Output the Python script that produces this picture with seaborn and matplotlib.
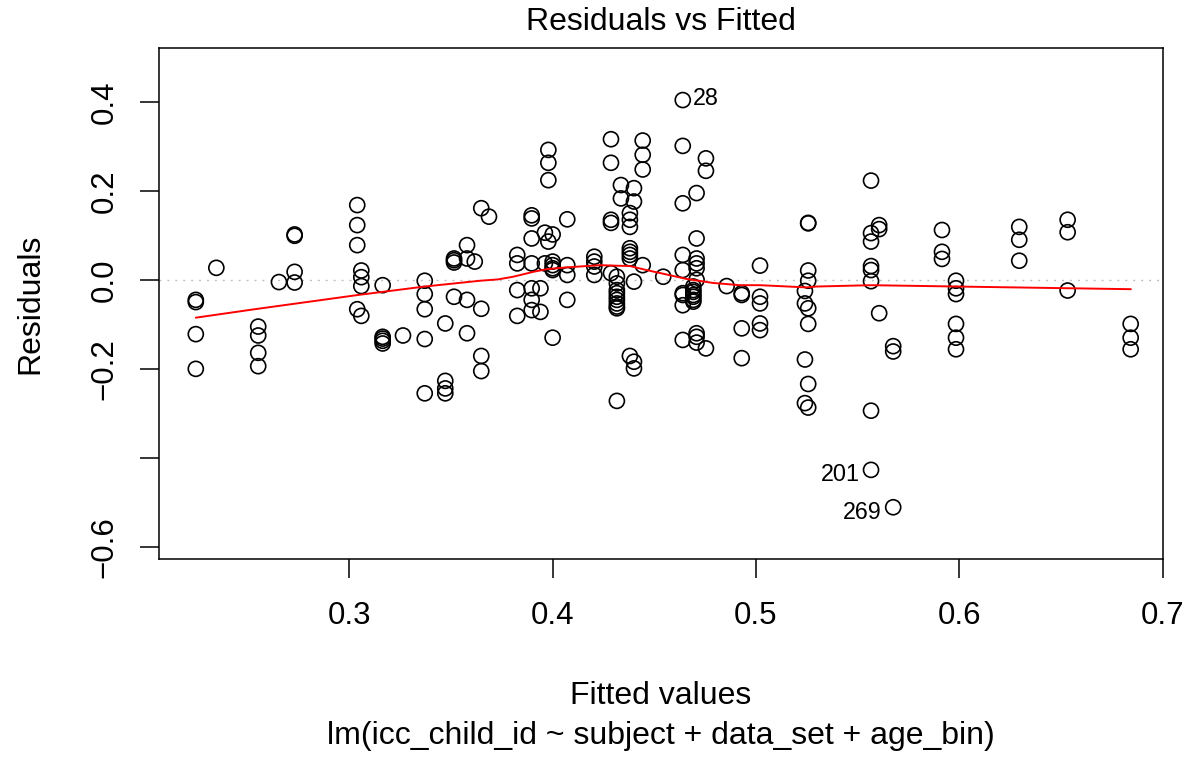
import numpy as np
import pandas as pd
import matplotlib
matplotlib.use("Agg")
import matplotlib.pyplot as plt
import seaborn as sns

# Fitted values (one entry per group of tied fitted values) and their residuals
fitted_levels = [
    0.2245, 0.2346, 0.2552, 0.2654, 0.2731, 0.3039, 0.3059, 0.3164, 0.3264,
    0.3371, 0.3472, 0.3515, 0.3579, 0.3617, 0.3649, 0.3687, 0.3826, 0.3897,
    0.3940, 0.3962, 0.3979, 0.4000, 0.4072, 0.4205, 0.4287, 0.4316, 0.4336,
    0.4380, 0.4400, 0.4443, 0.4544, 0.4640, 0.4692, 0.4708, 0.4754, 0.4856,
    0.4930, 0.5020, 0.5241, 0.5257, 0.5566, 0.5606, 0.5675, 0.5915, 0.5984,
    0.6295, 0.6533, 0.6843,
]
residual_groups = [
    [-0.044, -0.049, -0.121, -0.199],
    [0.028],
    [-0.104, -0.124, -0.163, -0.193],
    [-0.004],
    [0.103, 0.100, 0.019, -0.005],
    [0.169, 0.124, 0.079, -0.065],
    [0.022, 0.007, -0.013, -0.080],
    [-0.011, -0.127, -0.131, -0.136, -0.142],
    [-0.124],
    [-0.001, -0.031, -0.065, -0.132, -0.254],
    [-0.097, -0.226, -0.243, -0.254],
    [0.049, 0.045, 0.040, -0.037],
    [0.079, 0.049, -0.044, -0.119],
    [0.042],
    [0.162, -0.064, -0.170, -0.204],
    [0.143],
    [0.057, 0.038, -0.022, -0.080],
    [0.146, 0.139, 0.094, 0.038, -0.018, -0.044, -0.067],
    [-0.071, -0.018],
    [0.107, 0.038],
    [0.293, 0.264, 0.225, 0.087],
    [0.103, 0.042, 0.034, 0.027, 0.023, -0.129],
    [0.137, 0.034, 0.012, -0.044],
    [0.053, 0.042, 0.031, 0.012],
    [0.317, 0.264, 0.136, 0.129, 0.016],
    [0.008, -0.007, -0.022, -0.029, -0.037, -0.044, -0.052, -0.059, -0.063, -0.271],
    [0.214, 0.184],
    [0.151, 0.136, 0.120, 0.072, 0.064, 0.057, 0.049, -0.170],
    [0.207, 0.177, -0.003, -0.183, -0.198],
    [0.314, 0.282, 0.249, 0.034],
    [0.008],
    [0.302, 0.173, 0.057, 0.023, -0.029, -0.033, -0.056, -0.134],
    [-0.014, -0.022, -0.026, -0.033, -0.037, -0.044, -0.048],
    [0.196, 0.094, 0.049, 0.038, 0.027, 0.001, -0.119, -0.127, -0.140],
    [0.274, 0.246, -0.153],
    [-0.013],
    [-0.029, -0.033, -0.108, -0.175],
    [0.033, -0.037, -0.052, -0.097, -0.112],
    [-0.024, -0.052, -0.178, -0.276],
    [0.129, 0.128, 0.022, -0.001, -0.063, -0.098, -0.233, -0.286],
    [0.224, 0.106, 0.087, 0.032, 0.023, -0.002, -0.293],
    [0.124, 0.115, -0.074],
    [-0.148, -0.160],
    [0.113, 0.064, 0.048],
    [-0.001, -0.018, -0.031, -0.098, -0.129, -0.155],
    [0.120, 0.091, 0.044],
    [0.136, 0.108, -0.023],
    [-0.098, -0.129, -0.155],
]

# Observations flagged by their row number
flagged_ids = ["28", "201", "269"]
flagged_fitted = [0.4640, 0.5566, 0.5675]
flagged_resid = [0.405, -0.426, -0.510]
flagged_side = ["right", "left", "left"]

# Lowess smoother of residuals against fitted values
smooth_x = [0.2245, 0.2535, 0.3043, 0.3371, 0.3643, 0.3731, 0.3806, 0.3905,
            0.3971, 0.4069, 0.4233, 0.4298, 0.4380, 0.4462, 0.4561, 0.4659,
            0.4790, 0.4921, 0.5020, 0.5249, 0.5298, 0.5566, 0.5987, 0.6844]
smooth_y = [-0.084, -0.065, -0.033, -0.014, -0.001, 0.002, 0.008, 0.019,
            0.025, 0.029, 0.034, 0.033, 0.032, 0.023, 0.013, 0.003,
            -0.006, -0.011, -0.011, -0.016, -0.014, -0.011, -0.014, -0.020]

x_ticks = [0.3, 0.4, 0.5, 0.6, 0.7]
y_ticks = [0.4, 0.2, 0.0, -0.2, -0.4, -0.6]
y_tick_labels = ["0.4", "0.2", "0.0", "\u22120.2", "", "\u22120.6"]

rows = []
for fv, group in zip(fitted_levels, residual_groups):
    for r in group:
        rows.append((fv, r))
rows += list(zip(flagged_fitted, flagged_resid))
df = pd.DataFrame(rows, columns=["fitted", "residual"])

sns.set_theme(style="white")
plt.rcParams["font.family"] = ["Liberation Sans", "DejaVu Sans"]
plt.rcParams["text.color"] = "black"
plt.rcParams["axes.labelcolor"] = "black"
plt.rcParams["xtick.color"] = "black"
plt.rcParams["ytick.color"] = "black"

W, H = 1193, 757
fig = plt.figure(figsize=(W / 100, H / 100), dpi=100)
left, right, top, bottom = 159, 1163, 48.3, 558.7
ax = fig.add_axes([left / W, 1 - bottom / H, (right - left) / W, (bottom - top) / H])

ax.axhline(0, color="#BEBEBE", lw=1.0, ls=(0, (1.4, 4.3)), zorder=1)

sns.scatterplot(data=df, x="fitted", y="residual", ax=ax, marker="o", s=117,
                facecolor="none", edgecolor="black", linewidth=1.2, zorder=3)
sns.lineplot(x=smooth_x, y=smooth_y, ax=ax, color="red", lw=1.4,
             estimator=None, sort=False, zorder=4)

fs = 23
tfs = 22.5
for lab, fx, fy, side in zip(flagged_ids, flagged_fitted, flagged_resid, flagged_side):
    if side == "right":
        ax.annotate(lab, (fx, fy), xytext=(7, 1), textcoords="offset points",
                    ha="left", va="center", fontsize=16.8, color="black")
    else:
        ax.annotate(lab, (fx, fy), xytext=(-8, -3.5), textcoords="offset points",
                    ha="right", va="center", fontsize=16.8, color="black")

ax.set_xlim(0.2064, 0.7002)
ax.set_ylim(-0.6256, 0.5213)
ax.set_xticks(x_ticks)
ax.set_xticklabels([f"{t:.1f}" for t in x_ticks], fontsize=tfs)
ax.set_yticks(y_ticks)
ax.set_yticklabels(y_tick_labels, fontsize=tfs, rotation=90, va="center")
ax.tick_params(axis="both", direction="out", length=13.5, width=1.1,
               colors="black", left=True, bottom=True)
ax.tick_params(axis="x", pad=17)
ax.tick_params(axis="y", pad=15)
ax.set_xlabel("")
ax.set_ylabel("")
for sp in ax.spines.values():
    sp.set_color("black")
    sp.set_linewidth(1.1)

cx = (left + right) / 2 / W
fig.text(cx, 1 - 30 / H, "Residuals vs Fitted", ha="center", va="baseline", fontsize=fs)
fig.text(cx, 1 - 704 / H, "Fitted values", ha="center", va="baseline", fontsize=fs)
fig.text(cx, 1 - 744 / H, "lm(icc_child_id ~ subject + data_set + age_bin)",
         ha="center", va="baseline", fontsize=fs)
fig.text(38 / W, 1 - (top + bottom) / 2 / H, "Residuals", rotation=90,
         rotation_mode="anchor", ha="center", va="baseline", fontsize=fs)

fig.savefig("out.png", dpi=100, facecolor="white")
